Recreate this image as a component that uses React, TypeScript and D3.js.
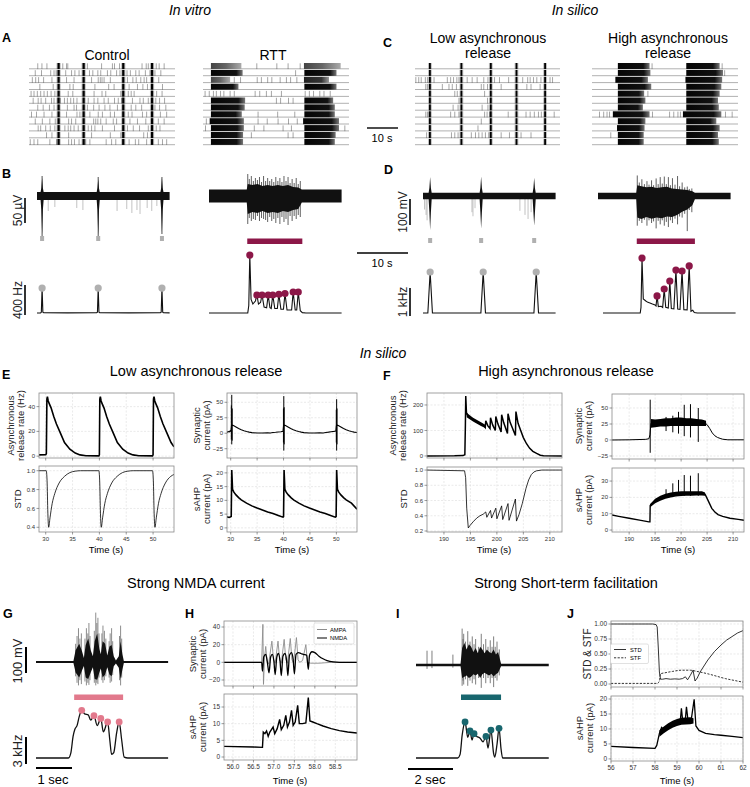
import React from 'react';
import * as d3 from 'd3';

type P2 = [number, number];
type P3 = [number, number, number];

const FONT = '"Liberation Sans", Arial, Helvetica, sans-serif';
const MAROON = '#8c1748';
const GRAYMK = '#b0b0b0';
const PINK = '#e2798c';
const TEAL = '#18666e';

// ---------------- Raster data (seconds within a 0–35 s window) ----------------
const rasterDomain: P2 = [0, 35];
const controlBurstTimes = [7.1, 13.1, 22.6, 29.5];
const controlSparse: number[][] = [
  [2.1, 3.1, 4.3, 8.1, 9.0, 9.3, 14.0, 17.4, 20.0, 20.5, 21.7, 27.1, 28.1, 28.6, 30.5, 31.2, 32.4],
  [1.5, 3.0, 5.2, 6.0, 6.5, 8.8, 10.2, 11.0, 12.0, 14.5, 15.3, 16.5, 17.2, 18.8, 19.6, 21.0, 21.8, 23.5, 24.3, 25.6, 26.4, 27.9, 29.0, 30.2, 31.6],
  [0.8, 1.6, 2.3, 3.5, 5.5, 9.0, 10.8, 15.0, 16.6, 17.1, 17.5, 18.0, 19.5, 23.6, 24.9, 25.7, 26.8, 27.6, 28.2, 31.1],
  [2.6, 5.8, 9.8, 10.6, 15.8, 19.1, 20.4, 24.0, 26.0, 27.3, 28.4, 32.0],
  [0.5, 1.2, 2.0, 2.8, 3.6, 4.4, 5.3, 6.2, 9.4, 10.5, 15.6, 17.5, 18.4, 22.0, 23.8, 24.5, 25.2, 30.6, 31.9],
  [1.0, 2.2, 2.9, 4.0, 5.4, 6.0, 6.8, 7.5, 8.5, 9.2, 10.0, 10.7, 11.5, 14.2, 15.6, 16.5, 18.0, 19.0, 20.5, 21.4, 22.2, 24.8, 26.6, 27.4, 28.6, 30.4, 31.3, 32.5],
  [2.1, 3.4, 4.9, 6.0, 9.2, 10.8, 11.4, 14.0, 15.5, 16.8, 18.2, 19.4, 21.2, 24.5, 25.6, 27.0, 30.2, 31.3, 32.8],
  [0.6, 1.8, 3.6, 5.5, 9.0, 11.5, 12.2, 14.6, 16.6, 17.6, 19.5, 20.5, 23.8, 24.7, 27.2, 28.2, 31.5, 33.0],
  [1.5, 3.2, 5.0, 6.3, 9.5, 10.2, 11.2, 15.5, 16.0, 16.5, 17.2, 18.5, 20.2, 21.0, 24.2, 26.0, 28.0, 31.0, 32.4],
  [2.2, 2.8, 4.0, 5.1, 6.2, 8.6, 9.4, 10.0, 10.8, 11.8, 14.2, 15.0, 15.8, 17.6, 20.5, 23.6, 25.0, 26.5, 28.6, 30.5, 31.4],
  [4.2, 5.5, 9.5, 15.0, 19.5, 22.0, 27.5, 28.4],
  [0.3, 1.2, 2.1, 5.0, 6.6, 9.5, 10.2, 10.9, 12.0, 13.6, 14.6, 18.5, 19.8, 20.8, 22.4, 24.0, 25.5, 26.3, 28.2, 31.0, 32.0, 33.0],
];
const rttBlocks: P3[][] = [
  [[1.9, 9.2, 0.5], [24.2, 33.0, 0.5]],
  [[1.9, 9.5, 1], [24.3, 32.0, 1]],
  [[1.9, 6.5, 0.5], [24.2, 30.2, 0.8]],
  [[1.9, 8.5, 1], [24.3, 32.0, 1]],
  [],
  [[1.9, 10.1, 1], [24.3, 31.2, 1]],
  [[1.9, 10.0, 1], [24.3, 31.6, 1]],
  [[1.9, 9.3, 1], [24.3, 31.6, 1]],
  [[1.6, 9.8, 1], [24.0, 32.6, 1]],
  [[1.9, 9.8, 1], [24.3, 32.6, 1]],
  [[1.9, 9.6, 1], [24.3, 31.8, 1]],
  [[1.9, 9.6, 1], [24.3, 31.6, 1]],
];
const rttSparse: number[][] = [
  [12.9, 17.7, 20.4, 23.3],
  [22.2],
  [7.5, 9.0, 13.0, 14.0, 15.5, 16.5, 18.5, 20.0, 21.0, 22.5],
  [],
  [0.5, 1.5, 2.5, 3.2, 4.2, 5.0, 6.5, 7.5, 12.5, 13.6, 15.2, 16.4, 18.8, 24.5, 25.5, 26.5, 28.0, 29.0, 30.5],
  [17.6, 18.6, 20.5, 21.6],
  [],
  [13.2, 17.9, 22.0],
  [0.8, 13.2, 15.4, 18.0, 20.5, 22.6],
  [0.6, 12.3, 14.6, 19.2, 21.2, 34.0],
  [11.6, 20.4, 21.6],
  [],
];
const lowColumnTimes = [3.6, 11.2, 18.3, 24.5, 31.4];
const lowSparse: number[][] = [
  [],
  [],
  [0.2, 0.9, 1.5, 2.5, 3.0, 4.6, 7.8, 8.6, 9.3, 10.1, 10.6, 12.6, 13.8, 15.0, 16.6, 17.6, 19.2, 20.4, 22.6, 26.0, 27.2, 27.8, 28.6, 29.4, 30.4, 32.6, 33.2],
  [2.6, 3.0, 6.6, 8.2, 9.0, 10.0, 16.0, 16.6, 17.5, 20.8, 27.0, 28.0, 30.2],
  [9.6, 10.2, 16.8],
  [10.6, 17.5],
  [9.2, 10.4, 16.2, 17.6],
  [2.6, 3.0, 3.4, 8.6, 9.6, 10.6, 16.8, 17.4, 18.0, 22.5, 26.8, 27.8, 28.8, 29.8, 30.5, 33.6],
  [16.0],
  [15.2],
  [2.8, 8.8, 9.6, 10.4, 13.6, 14.6, 15.4, 16.2, 17.0, 17.8, 20.8, 22.8, 25.6, 28.0],
  [],
];
const highBlocks: P3[][] = [
  [[6.2, 13.8, 1], [22.6, 30.6, 1]],
  [[6.2, 14.0, 1], [22.6, 31.4, 1]],
  [[5.6, 13.4, 1], [22.4, 31.2, 1]],
  [[6.2, 14.2, 1], [22.6, 31.0, 1]],
  [[6.2, 12.5, 1], [22.6, 30.6, 1]],
  [[6.2, 12.8, 1], [22.6, 30.2, 1]],
  [[6.2, 12.2, 1], [22.6, 30.4, 1]],
  [[5.0, 13.8, 1], [21.8, 31.0, 1]],
  [[6.2, 12.8, 1], [22.6, 29.8, 1]],
  [[6.0, 12.6, 1], [22.6, 30.6, 1]],
  [[6.2, 12.4, 1], [22.6, 30.2, 1]],
  [[6.2, 12.4, 1], [22.6, 30.4, 1]],
];
const highSparse: number[][] = [
  [14.4, 31.2], [31.8], [], [], [13.4], [], [],
  [1.8, 2.8, 3.6, 4.2, 14.5, 18.6, 19.6, 20.6, 21.2, 32.0, 33.6],
  [], [], [4.5], [],
];

// ---------------- B / D traces (t in s; [t, upper, lower]) ----------------
const bCtrlEnv: P3[] = [[0, 8, -8], [0.7, 8, -8], [0.85, 16, -28], [1.0, 36, -76], [1.15, 16, -28], [1.3, 8, -8], [11.7, 8, -8], [11.85, 16, -28], [12.0, 34, -78], [12.15, 16, -28], [12.3, 8, -8], [24.2, 8, -8], [24.35, 16, -28], [24.5, 36, -72], [24.65, 16, -28], [24.8, 8, -8], [26, 8, -8]];
const bCtrlSpikes: P3[] = [[1.0, 40, -80], [12.0, 38, -82], [24.5, 38, -76]];
const bCtrlMinor: P2[] = [[2.2, -30], [3.5, -22], [7.8, -24], [9.0, -28], [15.7, -30], [17.6, -26], [18.6, -34], [19.6, -28], [20.2, -36], [21.6, -24], [22.5, -30], [23.5, -20]];
const bRttEnv: P3[] = [[0, 13, -13], [7.4, 13, -13], [7.6, 24, -36], [8.5, 22, -32], [9.5, 24, -34], [10.5, 20, -30], [11.5, 22, -34], [12.5, 20, -32], [13.5, 22, -34], [14.5, 20, -30], [15.5, 22, -32], [16.5, 18, -28], [17.5, 17, -26], [18.2, 13, -13], [26, 13, -13]];
const bRttSpikes: P3[] = [[7.6, 44, -56], [7.9, 34, -44], [8.3, 40, -50], [8.7, 30, -46], [9.1, 36, -48], [9.5, 32, -40], [9.9, 38, -50], [10.3, 28, -44], [10.7, 40, -46], [11.1, 30, -48], [11.5, 36, -52], [11.9, 30, -42], [12.3, 34, -50], [12.7, 28, -46], [13.1, 38, -54], [13.5, 30, -44], [13.9, 36, -56], [14.3, 28, -42], [14.7, 40, -52], [15.1, 30, -46], [15.5, 38, -58], [15.9, 26, -40], [16.3, 34, -50], [16.7, 26, -40], [17.1, 36, -46], [17.5, 24, -38], [17.9, 30, -42]];
const dLowEnv: P3[] = [[0, 12, -12], [1.1, 12, -12], [1.25, 30, -60], [1.4, 70, -126], [1.55, 30, -60], [1.7, 12, -12], [11.1, 12, -12], [11.25, 30, -60], [11.4, 72, -120], [11.55, 30, -60], [11.7, 12, -12], [21.5, 12, -12], [21.65, 30, -60], [21.8, 68, -110], [21.95, 30, -60], [22.1, 12, -12], [26, 12, -12]];
const dLowMinor: P2[] = [[0.3, -50], [0.6, -70], [0.8, -90], [9.6, -60], [9.8, -75], [10.2, -45], [19.0, -55], [20.0, -70], [20.6, -85], [21.2, -60]];
const dHighEnv: P3[] = [[0, 12, -12], [7.5, 12, -12], [7.7, 40, -80], [8.5, 36, -85], [9.5, 32, -78], [10.5, 34, -84], [11.5, 30, -80], [12.5, 32, -82], [13.5, 34, -76], [14.5, 28, -78], [15.5, 26, -70], [16.5, 24, -58], [17.5, 22, -50], [18.5, 18, -34], [19.0, 12, -12], [26, 12, -12]];
const dHighSpikes: P3[] = [[7.7, 76, -110], [8.1, 50, -92], [8.6, 62, -100], [9.1, 44, -88], [9.6, 55, -110], [10.0, 42, -90], [10.5, 58, -100], [10.9, 40, -94], [11.4, 65, -120], [11.8, 44, -92], [12.2, 70, -105], [12.6, 46, -90], [13.0, 72, -110], [13.4, 44, -96], [13.8, 70, -115], [14.2, 40, -90], [14.6, 66, -100], [15.1, 42, -84], [15.6, 74, -105], [16.0, 36, -76], [16.5, 50, -80], [17.0, 32, -66], [17.5, 35, -130], [17.9, 26, -52], [18.4, 28, -60]];

const ctrlMarkTimes = [1.0, 12.0, 24.5];
const lowMarkTimes = [1.4, 11.4, 21.8];
const rttBar: P2 = [7.5, 18.3];
const highBar: P2 = [7.6, 19.0];

// rates (Hz)
const bCtrlRate: P2[] = [[0, 1], [0.7, 2], [0.85, 10], [1.0, 333], [1.15, 10], [1.3, 3], [6, 2], [11.7, 3], [11.85, 10], [12.0, 333], [12.15, 10], [12.3, 3], [18, 2], [24.2, 3], [24.35, 10], [24.5, 333], [24.65, 10], [24.8, 3], [26, 2]];
const bCtrlPeaks: P2[] = [[1.0, 333], [12.0, 333], [24.5, 333]];
const bRttRate: P2[] = [[0, 0], [7.6, 0], [7.8, 100], [8.0, 773], [8.25, 180], [8.6, 120], [9.1, 160], [9.4, 240], [9.7, 120], [10.1, 140], [10.4, 240], [10.8, 80], [11.3, 70], [11.6, 240], [11.95, 70], [12.2, 60], [12.5, 240], [12.9, 60], [13.4, 60], [13.7, 250], [14.1, 50], [14.6, 50], [14.9, 260], [15.3, 40], [16.2, 40], [16.5, 280], [16.9, 40], [17.2, 40], [17.5, 280], [17.9, 30], [18.3, 5], [19, 0], [26, 0]];
const bRttPeaks: P2[] = [[8.0, 773], [9.4, 240], [10.4, 240], [11.6, 240], [12.5, 240], [13.7, 250], [14.9, 260], [16.5, 280], [17.5, 280]];
const dLowRate: P2[] = [[0, 0], [0.95, 0], [1.4, 1464], [1.85, 0], [11.35, 0], [11.8, 1464], [12.25, 0], [21.75, 0], [22.2, 1464], [22.65, 0], [26, 0]];
const dLowPeaks: P2[] = [[1.4, 1464], [11.8, 1464], [22.2, 1464]];
const dHighRate: P2[] = [[0, 0], [7.3, 0], [7.45, 200], [7.65, 1960], [7.9, 500], [8.4, 430], [8.8, 380], [9.2, 360], [9.7, 320], [10.2, 290], [10.4, 250], [10.6, 610], [10.85, 230], [11.4, 240], [11.7, 200], [12.0, 857], [12.3, 200], [12.8, 180], [13.1, 1143], [13.4, 160], [13.9, 150], [14.3, 1536], [14.65, 140], [15.1, 130], [15.5, 1500], [15.85, 120], [16.5, 110], [16.9, 1680], [17.25, 60], [17.6, 100], [17.9, 20], [18.5, 0], [26, 0]];
const dHighPeaks: P2[] = [[7.65, 1960], [10.6, 610], [12.0, 857], [13.1, 1143], [14.3, 1536], [15.5, 1500], [16.9, 1680]];

// ---------------- E (low asynchronous release) ----------------
const eAsync: P2[] = [[28.75, 1], [30.0, 1.2], [30.12, 2], [30.22, 46], [30.32, 48], [30.45, 45], [30.6, 43], [31.0, 39], [31.5, 32], [32.0, 26], [32.7, 19], [33.5, 11], [34.5, 5.6], [35.5, 2.5], [36.4, 1], [37.5, 0.3], [39.9, 0.2],
  [40.0, 1], [40.08, 46], [40.18, 48], [40.3, 45], [40.45, 43], [40.85, 39], [41.35, 32], [41.85, 26], [42.55, 19], [43.35, 11], [44.35, 5.6], [45.35, 2.5], [46.25, 1], [47.35, 0.3], [49.9, 0.2],
  [50.0, 1], [50.08, 46], [50.18, 48], [50.3, 45], [50.45, 43], [50.85, 39], [51.35, 32], [51.85, 26], [52.55, 19], [53.35, 11], [53.9, 7.5]];
const eSTD: P2[] = [[28.75, 1.0], [30.1, 1.0], [30.25, 0.9], [30.4, 0.55], [30.55, 0.4], [30.8, 0.5], [31.2, 0.65], [31.7, 0.76], [32.5, 0.87], [33.5, 0.94], [34.5, 0.98], [35.5, 0.995], [36.5, 1.0],
  [39.9, 1.0], [40.05, 0.9], [40.2, 0.55], [40.35, 0.4], [40.6, 0.5], [41.0, 0.65], [41.5, 0.76], [42.3, 0.87], [43.3, 0.94], [44.3, 0.98], [45.3, 0.995], [46.3, 1.0],
  [49.9, 1.0], [50.05, 0.9], [50.2, 0.55], [50.35, 0.4], [50.6, 0.5], [51.0, 0.65], [51.5, 0.76], [52.3, 0.87], [53.3, 0.94], [53.9, 0.96]];
const eSyn: P2[] = [[29.3, 1], [29.5, 3], [29.7, 2], [29.9, 4], [30.05, 3], [30.15, 12], [30.35, 13], [30.6, 12], [31, 10], [31.5, 7.5], [32, 5.5], [32.5, 4], [33, 2.8], [33.5, 1.8], [34, 1], [35, 0.3], [36, 0.4], [37, 0.8], [37.5, 0.5], [38, 1.2], [38.5, 1.5], [39, 2], [39.5, 2.5], [39.9, 3],
  [40.0, 12], [40.2, 13], [40.45, 12], [40.85, 10], [41.35, 7.5], [41.85, 5.5], [42.35, 4], [42.85, 2.8], [43.35, 1.8], [43.85, 1], [44.85, 0.3], [45.85, 0.4], [46.85, 0.8], [47.5, 0.5], [48, 1.2], [48.5, 1.8], [49, 2.5], [49.5, 3], [49.9, 3.5],
  [50.0, 12], [50.2, 13], [50.45, 12], [50.85, 10], [51.35, 7.5], [51.85, 5.5], [52.35, 4], [52.85, 2.8], [53.35, 1.8], [53.9, 1.2]];
const eSynSpikes: P3[] = [[30.12, 45, -10], [30.2, 62, -18], [30.28, 40, -12], [39.98, 40, -15], [40.05, 60, -28], [40.12, 42, -18], [49.98, 38, -15], [50.05, 55, -28], [50.12, 40, -18]];
const eAHP: P2[] = [[29.3, 4], [29.7, 3.8], [30.0, 4], [30.1, 4.2], [30.2, 21], [30.35, 14], [30.6, 13], [31, 12], [31.5, 11], [32, 10.2], [33, 9], [34, 8], [35, 7.2], [36, 6.5], [37, 5.8], [38, 5.2], [39, 4.5], [39.9, 3.9],
  [40.0, 4.1], [40.1, 21], [40.25, 14], [40.5, 13], [40.9, 12], [41.4, 11], [41.9, 10.2], [42.9, 9], [43.9, 8], [44.9, 7.2], [45.9, 6.5], [46.9, 5.8], [47.9, 5.2], [48.9, 4.5], [49.8, 3.9],
  [49.95, 4.1], [50.05, 21], [50.2, 14], [50.45, 13], [50.85, 12], [51.35, 11], [51.85, 10.2], [52.85, 9], [53.9, 6.8]];

// ---------------- F (high asynchronous release) ----------------
const fAsync: P2[] = [[186.8, 0], [192, 0.5], [193.6, 1.5], [193.95, 5], [194.05, 120], [194.12, 235], [194.25, 170], [194.5, 158], [195, 150], [195.5, 143], [196, 136], [196.5, 130], [197, 125], [197.5, 120], [197.8, 112], [197.9, 138], [198.3, 118], [198.7, 108], [198.8, 150], [199.2, 122], [199.7, 100], [199.8, 155], [200.2, 125], [200.8, 94], [200.9, 162], [201.3, 130], [202.0, 88], [202.1, 166], [202.5, 132], [203.5, 80], [203.6, 174], [204.0, 128], [204.5, 100], [205.0, 72], [205.6, 48], [206.2, 30], [206.8, 18], [207.5, 10], [208.2, 3], [208.8, 0.5], [212.3, 0]];
const fAsyncBand: P3[] = [[194.3, 170, 152], [195, 158, 142], [196, 144, 129], [197, 132, 118], [197.8, 122, 110]];
const fSTD: P2[] = [[186.8, 1.0], [193.9, 0.99], [194.1, 0.9], [194.3, 0.5], [194.6, 0.24], [194.9, 0.27], [195.5, 0.32], [196.2, 0.37], [196.8, 0.4], [197.4, 0.42], [197.9, 0.45], [198.1, 0.38], [198.8, 0.47], [199.0, 0.37], [199.8, 0.5], [200.0, 0.36], [200.9, 0.53], [201.1, 0.35], [202.1, 0.56], [202.3, 0.34], [203.5, 0.62], [203.7, 0.33], [204.2, 0.42], [204.8, 0.56], [205.5, 0.76], [206, 0.87], [206.5, 0.94], [207, 0.975], [207.5, 0.99], [208.5, 1.0], [212.3, 1.0]];
const fSyn: P2[] = [[186.7, 0], [190, 0.3], [193.2, 1], [193.8, 2], [194.0, 8], [194.2, 26], [194.6, 27], [195.5, 27], [197, 28], [199, 28], [201, 28], [203, 28], [204.5, 27], [205.0, 24], [205.5, 18], [206.0, 11], [206.5, 6.5], [207, 4], [207.5, 2.5], [208, 1.2], [209, 0.3], [212.1, 0.3]];
const fSynBand: P3[] = [[194.2, 33, 19], [195, 32, 20], [196, 33, 21], [197, 34, 21], [198, 34, 22], [199, 35, 22], [200, 35, 22], [201, 34, 22], [202, 34, 22], [203, 33, 22], [204, 32, 22], [204.8, 30, 22]];
const fSynSpikes: P3[] = [[194.05, 63, -20], [197.1, 36, 14], [198.4, 38, 12], [199.5, 44, 10], [200.6, 55, 6], [201.8, 56, 4], [203.3, 50, -3]];
const fAHP: P2[] = [[186.7, 9.2], [188, 8.4], [190, 7.2], [192, 6.1], [193.8, 5.0], [194.0, 5.0], [194.05, 15], [194.3, 16], [195, 17.8], [196, 19.5], [197, 20.6], [198, 21.4], [199, 22], [200, 22.3], [201, 22.4], [202, 22.5], [203, 22.5], [204, 22.5], [204.6, 22], [205.2, 18], [205.9, 13.3], [206.5, 11], [207.1, 9.5], [208, 8.4], [209.4, 7.2], [211, 6.5], [212.1, 6]];
const fAHPBand: P3[] = [[194.05, 16, 14], [195, 19.2, 16.4], [196, 21, 18], [197, 22.2, 19.2], [198, 23, 20], [199, 23.5, 20.6], [200, 23.7, 20.8], [201, 23.8, 21], [202, 23.8, 21], [203, 23.8, 21.1], [204, 23.8, 21.1], [204.6, 23, 21]];
const fAHPSpikes: P2[] = [[197.1, 25], [198.4, 28.6], [199.5, 30.7], [200.6, 33.7], [201.8, 33.3], [203.3, 34.8]];

// ---------------- G / H (strong NMDA) ----------------
const gEnv: P3[] = [[0, 4, -4], [1.04, 4, -4], [1.1, 45, -40], [1.2, 70, -60], [1.28, 40, -32], [1.33, 15, -15], [1.38, 65, -60], [1.45, 90, -65], [1.52, 45, -40], [1.58, 22, -20], [1.63, 80, -65], [1.7, 110, -68], [1.76, 50, -40], [1.8, 30, -25], [1.85, 80, -60], [1.92, 70, -48], [1.98, 25, -20], [2.04, 60, -48], [2.1, 65, -55], [2.16, 22, -16], [2.22, 6, -6], [2.3, 22, -22], [2.35, 80, -65], [2.4, 30, -30], [2.44, 4, -4], [3.67, 4, -4]];
const gSpikes: P3[] = [[1.1, 70, -55], [1.14, 100, -80], [1.18, 130, -90], [1.22, 90, -70], [1.26, 110, -85], [1.36, 90, -75], [1.4, 130, -90], [1.44, 110, -80], [1.47, 150, -88], [1.5, 100, -70], [1.62, 120, -80], [1.66, 190, -90], [1.69, 150, -80], [1.72, 170, -85], [1.75, 110, -60], [1.83, 110, -70], [1.86, 140, -80], [1.9, 120, -70], [1.94, 90, -55], [2.03, 80, -60], [2.06, 110, -80], [2.1, 130, -75], [2.13, 80, -50], [2.32, 100, -70], [2.35, 140, -90], [2.38, 90, -60]];
const gBar: P2 = [1.06, 2.42];
const gRate: P2[] = [[0, 0], [0.9, 0], [0.97, 0.6], [1.03, 2.4], [1.08, 3.2], [1.14, 3.6], [1.2, 4.6], [1.27, 5.3], [1.35, 4.9], [1.45, 4.8], [1.52, 4.2], [1.61, 4.7], [1.7, 3.6], [1.8, 4.4], [1.87, 2.9], [1.99, 4.0], [2.05, 2.0], [2.1, 0.4], [2.16, 0.6], [2.24, 2.8], [2.31, 4.0], [2.38, 2.0], [2.45, 0.1], [2.55, 0], [3.67, 0]];
const gMarkers: P2[] = [[1.27, 5.3], [1.61, 4.7], [1.8, 4.4], [1.99, 4.0], [2.31, 4.0]];
const hAMPA: P2[] = [[55.78, 0], [56.7, 0], [56.73, 43], [56.745, -25], [56.77, 5], [56.8, 18], [56.83, 2], [56.87, -2], [56.95, 24], [56.99, 3], [57.03, -1], [57.1, 24], [57.14, 3], [57.18, -1], [57.25, 26], [57.29, 3], [57.33, -1], [57.4, 27], [57.44, 3], [57.48, -1], [57.55, 28], [57.59, 3], [57.63, 0], [57.7, 2], [57.78, 20], [57.82, 0], [57.9, -1], [58.1, -1], [58.4, 0], [59.03, 0]];
const hNMDA: P2[] = [[55.78, 0], [56.7, 0], [56.72, -10], [56.75, 6], [56.8, 9], [56.84, 0], [56.88, -12], [56.92, 6], [56.96, 9], [57.0, 1], [57.03, -14], [57.07, 6], [57.11, 10], [57.15, 1], [57.18, -15], [57.22, 7], [57.27, 10], [57.31, 2], [57.34, -15], [57.38, 8], [57.43, 11], [57.47, 3], [57.5, -13], [57.54, 9], [57.6, 11], [57.66, 10], [57.72, 9], [57.8, 8], [57.84, -8], [57.87, 8], [57.93, 12], [58.0, 11], [58.1, 7], [58.2, 4], [58.3, 2], [58.45, 0.5], [58.6, 0], [59.03, 0]];
const hAHP: P2[] = [[55.78, 3.2], [56.5, 3.0], [56.72, 2.9], [56.74, 7.5], [56.78, 7.0], [56.82, 7.8], [56.86, 6.2], [56.9, 7.5], [56.98, 9], [57.02, 7.0], [57.08, 8.5], [57.14, 11.3], [57.18, 8.2], [57.24, 9.5], [57.29, 12.5], [57.33, 9], [57.38, 10.5], [57.43, 14], [57.47, 9.5], [57.52, 10.5], [57.58, 15.5], [57.62, 10], [57.7, 10], [57.78, 10.2], [57.84, 17.8], [57.88, 10.8], [57.95, 10.5], [58.05, 10], [58.2, 9.3], [58.4, 8.5], [58.6, 7.9], [58.8, 7.5], [59.03, 7.2]];

// ---------------- I / J (strong STF) ----------------
const iEnv: P3[] = [[0, 5, -5], [1.98, 5, -5], [2.05, 65, -50], [2.15, 85, -45], [2.25, 60, -40], [2.35, 80, -50], [2.45, 70, -45], [2.55, 50, -36], [2.65, 65, -40], [2.75, 45, -34], [2.85, 70, -50], [2.95, 60, -36], [3.05, 45, -30], [3.15, 60, -36], [3.25, 50, -40], [3.35, 45, -34], [3.45, 60, -44], [3.55, 40, -36], [3.65, 50, -30], [3.78, 5, -5], [5.9, 5, -5]];
const iSpikes: P3[] = [[0.49, 55, -15], [0.71, 55, -12], [1.64, 40, -10], [2.05, 140, -80], [2.09, 100, -60], [2.12, 120, -75], [2.2, 90, -55], [2.3, 130, -80], [2.4, 90, -60], [2.5, 110, -70], [2.58, 80, -55], [2.65, 100, -75], [2.78, 70, -50], [2.9, 120, -88], [3.0, 80, -50], [3.1, 100, -70], [3.2, 70, -50], [3.3, 95, -70], [3.38, 70, -50], [3.45, 110, -85], [3.52, 70, -50], [3.6, 90, -60], [3.7, 60, -40]];
const iBar: P2 = [2.0, 3.78];
const iRate: P2[] = [[0, 0], [1.85, 0], [1.96, 0.4], [2.05, 2.5], [2.18, 4.0], [2.3, 2.3], [2.4, 3.0], [2.49, 2.0], [2.58, 2.7], [2.7, 2.4], [2.85, 2.2], [2.98, 1.8], [3.11, 2.4], [3.2, 1.1], [3.33, 3.1], [3.45, 0.5], [3.5, 0.1], [3.6, 1.5], [3.69, 3.3], [3.78, 1.0], [3.85, 0], [5.9, 0]];
const iMarkers: P2[] = [[2.18, 4.0], [2.4, 3.0], [2.58, 2.7], [3.11, 2.4], [3.33, 3.1], [3.69, 3.3]];
const jSTD: P2[] = [[56, 1.0], [57.9, 1.0], [58.05, 0.99], [58.1, 0.95], [58.15, 0.6], [58.2, 0.2], [58.25, 0.08], [58.35, 0.08], [58.5, 0.09], [58.7, 0.08], [58.9, 0.085], [59.1, 0.08], [59.25, 0.09], [59.38, 0.12], [59.48, 0.07], [59.6, 0.14], [59.73, 0.23], [59.82, 0.05], [59.92, 0.1], [60.05, 0.2], [60.4, 0.4], [60.7, 0.54], [61.0, 0.65], [61.25, 0.73], [61.5, 0.79], [61.75, 0.85], [62, 0.89]];
const jSTF: P2[] = [[56, 0.01], [58.1, 0.01], [58.2, 0.05], [58.25, 0.17], [58.5, 0.19], [58.8, 0.21], [59.2, 0.23], [59.6, 0.23], [59.9, 0.21], [60.4, 0.17], [60.8, 0.13], [61.2, 0.09], [61.6, 0.06], [62, 0.03]];
const jAHP: P2[] = [[56, 4.2], [57, 3.8], [58, 3.5], [58.08, 4.5], [58.2, 8.5], [58.3, 10.5], [58.4, 9.8], [58.6, 10.8], [58.8, 11.6], [59.0, 12.2], [59.15, 12.6], [59.2, 16.9], [59.26, 12.6], [59.38, 13.2], [59.43, 17.4], [59.5, 12.8], [59.65, 13.2], [59.78, 19.9], [59.86, 11], [60, 9.5], [60.3, 8.5], [60.7, 8.1], [61, 7.9], [61.5, 7.5], [62, 7.1]];
const jAHPBand: P3[] = [[58.2, 9.6, 7.4], [58.4, 10.8, 8.6], [58.6, 11.9, 9.6], [58.8, 12.7, 10.4], [59, 13.3, 11], [59.2, 13.7, 11.4], [59.6, 13.9, 11.6], [59.75, 13.6, 11.8]];

// ---------------- helpers ----------------
const lineP = (xs: any, ys: any, data: P2[], curve: any = d3.curveLinear) =>
  d3.line<P2>().x(d => xs(d[0])).y(d => ys(d[1])).curve(curve)(data) || '';
const areaP = (xs: any, ys: any, data: P3[], curve: any = d3.curveLinear) =>
  d3.area<P3>().x(d => xs(d[0])).y0(d => ys(d[2])).y1(d => ys(d[1])).curve(curve)(data) || '';
const fmtMinus = (v: number, digits = 0) => {
  const s = Math.abs(v).toFixed(digits);
  return v < 0 ? '\u2212' + s : s;
};

function Raster({ x0, x1, y0, gap, sparse, columns, blocks, colW }: any) {
  const xs = d3.scaleLinear().domain(rasterDomain).range([x0, x1]);
  const n = sparse.length;
  const rows = [];
  for (let i = 0; i < n; i++) {
    const y = y0 + i * gap;
    rows.push(
      <g key={i}>
        <line x1={x0} x2={x1} y1={y + 0.5} y2={y + 0.5} stroke="#8f8f8f" strokeWidth={0.7} />
        {sparse[i].map((t: number, j: number) => (
          <line key={j} x1={xs(t)} x2={xs(t)} y1={y - 5} y2={y + 0.8} stroke="#555" strokeOpacity={0.75} strokeWidth={0.7} />
        ))}
        {(columns || []).map((t: number, j: number) => (
          <g key={'c' + j}>
            <rect x={xs(t) - colW / 2 - 1} y={y - 5.3} width={colW + 2} height={6} fill="#000" opacity={0.25} />
            <rect x={xs(t) - colW / 2} y={y - 5.3} width={colW} height={6} fill="#000" />
          </g>
        ))}
        {(blocks ? blocks[i] : []).map((b: P3, j: number) => (
          <rect key={'b' + j} x={xs(b[0])} y={y - 5.3} width={xs(b[1]) - xs(b[0])} height={6}
            fill={b[2] < 0.7 ? 'url(#gradGray)' : b[2] < 1 ? 'url(#gradMid)' : 'url(#gradBlk)'} />
        ))}
      </g>
    );
  }
  return <g>{rows}</g>;
}

function Trace({ xs, ys, env, spikes, minor, spikeColor = '#222', bandColor = '#111' }: any) {
  return (
    <g>
      {(minor || []).map((m: P2, i: number) => (
        <line key={'m' + i} x1={xs(m[0])} x2={xs(m[0])} y1={ys(0)} y2={ys(m[1])} stroke="#999" strokeWidth={0.6} />
      ))}
      {(spikes || []).map((s: P3, i: number) => (
        <line key={'s' + i} x1={xs(s[0])} x2={xs(s[0])} y1={ys(s[1])} y2={ys(s[2])} stroke={spikeColor} strokeWidth={0.8} />
      ))}
      <path d={areaP(xs, ys, env)} fill={bandColor} />
    </g>
  );
}

function Plot({ id, x0, x1, y0, y1, xd, yd, xt, yt, xfmt, yfmt, showX, fs = 6, children }: any) {
  const xs = d3.scaleLinear().domain(xd).range([x0, x1]);
  const ys = d3.scaleLinear().domain(yd).range([y1, y0]);
  return (
    <g>
      <defs>
        <clipPath id={id}><rect x={x0} y={y0} width={x1 - x0} height={y1 - y0} /></clipPath>
      </defs>
      {xt.map((t: number) => (
        <line key={'gx' + t} x1={xs(t)} x2={xs(t)} y1={y0} y2={y1} stroke="#dcdcdc" strokeWidth={0.6} strokeDasharray="2,1.5" />
      ))}
      {yt.map((t: number) => (
        <line key={'gy' + t} x1={x0} x2={x1} y1={ys(t)} y2={ys(t)} stroke="#dcdcdc" strokeWidth={0.6} strokeDasharray="2,1.5" />
      ))}
      <g clipPath={`url(#${id})`}>{children(xs, ys)}</g>
      <rect x={x0} y={y0} width={x1 - x0} height={y1 - y0} fill="none" stroke="#8a8a8a" strokeWidth={0.8} />
      {xt.map((t: number) => (
        <line key={'tx' + t} x1={xs(t)} x2={xs(t)} y1={y1} y2={y1 + 2.5} stroke="#555" strokeWidth={0.6} />
      ))}
      {showX && xt.map((t: number) => (
        <text key={'lx' + t} x={xs(t)} y={y1 + 9} fontSize={fs} textAnchor="middle" fill="#333">{xfmt(t)}</text>
      ))}
      {yt.map((t: number) => (
        <g key={'ty' + t}>
          <line x1={x0 - 2.5} x2={x0} y1={ys(t)} y2={ys(t)} stroke="#555" strokeWidth={0.6} />
          <text x={x0 - 4} y={ys(t)} dy="0.35em" fontSize={fs} textAnchor="end" fill="#333">{yfmt(t)}</text>
        </g>
      ))}
    </g>
  );
}

function YLabel({ x, y, lines, fs = 9.5, gap = 10 }: any) {
  return (
    <g transform={`translate(${x},${y}) rotate(-90)`}>
      {lines.map((l: string, i: number) => (
        <text key={i} x={0} y={i * gap} textAnchor="middle" fontSize={fs} fill="#222">{l}</text>
      ))}
    </g>
  );
}

export default function App() {
  // B/D time scales (5.1 px per s)
  const tsc = (x0: number) => d3.scaleLinear().domain([0, 26]).range([x0, x0 + 26 * 5.1]);
  const bX = tsc(37), rX = tsc(209), dlX = tsc(423), dhX = tsc(598), dhRX = tsc(603);
  const bY = d3.scaleLinear().domain([0, 50]).range([196, 171]);
  const dY = d3.scaleLinear().domain([0, 100]).range([196, 169]);
  const bRY = d3.scaleLinear().domain([0, 400]).range([313, 283]);
  const dRY = d3.scaleLinear().domain([0, 1000]).range([313, 285]);
  const gX = d3.scaleLinear().domain([0, 1]).range([36, 72]);
  const gY = d3.scaleLinear().domain([0, 100]).range([662, 636]);
  const gRY = d3.scaleLinear().domain([0, 3]).range([758, 731]);
  const iX = d3.scaleLinear().domain([0, 2]).range([416, 461]);
  const iY = d3.scaleLinear().domain([0, 100]).range([665, 639]);
  const iRY = d3.scaleLinear().domain([0, 3]).range([758, 731]);

  const tf = (v: number) => String(v);

  return (
    <svg width={750} height={787} style={{ position: 'absolute', left: 0, top: 0, background: '#fff' }}
      fontFamily={FONT}>
      <defs>
        <linearGradient id="gradBlk" x1="0" x2="1" y1="0" y2="0">
          <stop offset="0" stopColor="#050505" />
          <stop offset="0.8" stopColor="#111" />
          <stop offset="1" stopColor="#777" />
        </linearGradient>
        <linearGradient id="gradMid" x1="0" x2="1" y1="0" y2="0">
          <stop offset="0" stopColor="#222" />
          <stop offset="0.7" stopColor="#333" />
          <stop offset="1" stopColor="#999" />
        </linearGradient>
        <linearGradient id="gradGray" x1="0" x2="1" y1="0" y2="0">
          <stop offset="0" stopColor="#444" />
          <stop offset="0.5" stopColor="#666" />
          <stop offset="1" stopColor="#aaa" />
        </linearGradient>
      </defs>
      <rect x={0} y={0} width={750} height={787} fill="#fff" />

      {/* Headings */}
      <text x={190} y={15} fontSize={14} fontStyle="italic" textAnchor="middle">In vitro</text>
      <text x={575} y={15} fontSize={14} fontStyle="italic" textAnchor="middle">In silico</text>
      <text x={383} y={358} fontSize={14} fontStyle="italic" textAnchor="middle">In silico</text>

      {/* Panel letters */}
      {[['A', 2, 42], ['B', 2, 178], ['C', 383, 47], ['D', 384, 174], ['E', 2, 379], ['F', 383, 380], ['G', 3, 618], ['H', 185, 618], ['I', 396, 618], ['J', 567, 618]].map(([l, x, y]: any) => (
        <text key={l} x={x} y={y} fontSize={12.5} fontWeight="bold">{l}</text>
      ))}

      {/* A titles */}
      <text x={107} y={60} fontSize={14} textAnchor="middle">Control</text>
      <text x={273} y={60} fontSize={14} textAnchor="middle">RTT</text>
      <text x={488} y={43} fontSize={14} textAnchor="middle">Low asynchronous</text>
      <text x={488} y={58} fontSize={14} textAnchor="middle">release</text>
      <text x={668} y={43} fontSize={14} textAnchor="middle">High asynchronous</text>
      <text x={668} y={58} fontSize={14} textAnchor="middle">release</text>

      {/* Rasters */}
      <Raster x0={29} x1={175} y0={68.3} gap={6.9} sparse={controlSparse} columns={controlBurstTimes} colW={2.2} />
      <Raster x0={203} x1={349} y0={68.3} gap={6.9} sparse={rttSparse} blocks={rttBlocks} />
      <Raster x0={415} x1={560} y0={68.3} gap={6.9} sparse={lowSparse} columns={lowColumnTimes} colW={1.8} />
      <Raster x0={592} x1={738} y0={68.3} gap={6.9} sparse={highSparse} blocks={highBlocks} />
      <line x1={367} x2={398} y1={128} y2={128} stroke="#000" strokeWidth={1.4} />
      <text x={382} y={142} fontSize={11} textAnchor="middle">10 s</text>

      {/* B traces */}
      <Trace xs={bX} ys={bY} env={bCtrlEnv} spikes={bCtrlSpikes} minor={bCtrlMinor} />
      <Trace xs={rX} ys={bY} env={bRttEnv} spikes={bRttSpikes} spikeColor="#3a3a3a" />
      {ctrlMarkTimes.map((t, i) => <rect key={i} x={bX(t) - 2} y={236} width={4} height={5} fill={GRAYMK} />)}
      <rect x={rX(rttBar[0])} y={238.5} width={rX(rttBar[1]) - rX(rttBar[0])} height={5.5} fill={MAROON} />
      <path d={lineP(bX, bRY, bCtrlRate)} fill="none" stroke="#111" strokeWidth={1.1} />
      <path d={lineP(rX, bRY, bRttRate)} fill="none" stroke="#111" strokeWidth={1.1} />
      {bCtrlPeaks.map((p, i) => <circle key={i} cx={bX(p[0])} cy={bRY(p[1])} r={3.6} fill={GRAYMK} />)}
      {bRttPeaks.map((p, i) => <circle key={i} cx={rX(p[0])} cy={bRY(p[1])} r={3.6} fill={MAROON} />)}
      <line x1={25} x2={25} y1={198} y2={223} stroke="#000" strokeWidth={1.6} />
      <YLabel x={22} y={210.5} lines={['50 \u00b5V']} fs={12} />
      <line x1={25} x2={25} y1={285} y2={315} stroke="#000" strokeWidth={1.6} />
      <YLabel x={22} y={300} lines={['400 Hz']} fs={12} />

      {/* middle time bar */}
      <line x1={357} x2={408} y1={253} y2={253} stroke="#000" strokeWidth={1.4} />
      <text x={382} y={267} fontSize={11} textAnchor="middle">10 s</text>

      {/* D traces */}
      <Trace xs={dlX} ys={dY} env={dLowEnv} minor={dLowMinor} />
      <Trace xs={dhX} ys={dY} env={dHighEnv} spikes={dHighSpikes} spikeColor="#3a3a3a" />
      {lowMarkTimes.map((t, i) => <rect key={i} x={dlX(t) - 2} y={238} width={4} height={5} fill={GRAYMK} />)}
      <rect x={dhX(highBar[0])} y={238.5} width={dhX(highBar[1]) - dhX(highBar[0])} height={5.5} fill={MAROON} />
      <path d={lineP(dlX, dRY, dLowRate)} fill="none" stroke="#111" strokeWidth={1.1} />
      <path d={lineP(dhRX, dRY, dHighRate)} fill="none" stroke="#111" strokeWidth={1.1} />
      {dLowPeaks.map((p, i) => <circle key={i} cx={dlX(p[0])} cy={dRY(p[1])} r={3.6} fill={GRAYMK} />)}
      {dHighPeaks.map((p, i) => <circle key={i} cx={dhRX(p[0])} cy={dRY(p[1])} r={3.6} fill={MAROON} />)}
      <line x1={410} x2={410} y1={199} y2={225} stroke="#000" strokeWidth={1.6} />
      <YLabel x={406.5} y={212} lines={['100 mV']} fs={12} />
      <line x1={410} x2={410} y1={288} y2={316} stroke="#000" strokeWidth={1.6} />
      <YLabel x={406.5} y={302} lines={['1 kHz']} fs={12} />

      {/* E */}
      <text x={196} y={376} fontSize={14.5} textAnchor="middle">Low asynchronous release</text>
      <Plot id="eTL" x0={39} x1={174} y0={393} y1={458} xd={[28.75, 53.9]} yd={[-1.5, 51]} xt={[30, 35, 40, 45, 50]} yt={[0, 20, 40]} yfmt={tf} showX={false}>
        {(xs: any, ys: any) => <path d={lineP(xs, ys, eAsync)} fill="none" stroke="#000" strokeWidth={1.6} />}
      </Plot>
      <Plot id="eBL" x0={39} x1={174} y0={466} y1={532} xd={[28.75, 53.9]} yd={[0.35, 1.05]} xt={[30, 35, 40, 45, 50]} yt={[0.4, 0.6, 0.8, 1.0]} yfmt={(v: number) => v.toFixed(1)} xfmt={tf} showX>
        {(xs: any, ys: any) => <path d={lineP(xs, ys, eSTD, d3.curveMonotoneX)} fill="none" stroke="#000" strokeWidth={0.8} />}
      </Plot>
      <Plot id="eTR" x0={227} x1={357} y0={393} y1={458} xd={[29.3, 53.9]} yd={[-40, 65]} xt={[30, 35, 40, 45, 50]} yt={[-25, 0, 25, 50]} yfmt={(v: number) => fmtMinus(v)} showX={false}>
        {(xs: any, ys: any) => (
          <g>
            <path d={lineP(xs, ys, eSyn)} fill="none" stroke="#000" strokeWidth={1.1} />
            {eSynSpikes.map((s, i) => <line key={i} x1={xs(s[0])} x2={xs(s[0])} y1={ys(s[1])} y2={ys(s[2])} stroke="#000" strokeWidth={1} />)}
          </g>
        )}
      </Plot>
      <Plot id="eBR" x0={227} x1={357} y0={466} y1={532} xd={[29.3, 53.9]} yd={[-1.5, 22.5]} xt={[30, 35, 40, 45, 50]} yt={[0, 5, 10, 15, 20]} yfmt={tf} xfmt={tf} showX>
        {(xs: any, ys: any) => <path d={lineP(xs, ys, eAHP)} fill="none" stroke="#000" strokeWidth={1.6} />}
      </Plot>
      <YLabel x={14} y={425.5} lines={['Asynchronous', 'release rate (Hz)']} />
      <YLabel x={21} y={499} lines={['STD']} />
      <YLabel x={200} y={425.5} lines={['Synaptic', 'current (pA)']} />
      <YLabel x={200} y={499} lines={['sAHP', 'current (pA)']} />
      <text x={106} y={553} fontSize={9.5} textAnchor="middle">Time (s)</text>
      <text x={292} y={553} fontSize={9.5} textAnchor="middle">Time (s)</text>

      {/* F */}
      <text x={566} y={376} fontSize={14.5} textAnchor="middle">High asynchronous release</text>
      <Plot id="fTL" x0={427} x1={562} y0={393} y1={458} xd={[186.8, 212.3]} yd={[-8, 247]} xt={[190, 195, 200, 205, 210]} yt={[0, 100, 200]} yfmt={tf} showX={false}>
        {(xs: any, ys: any) => (
          <g>
            <path d={areaP(xs, ys, fAsyncBand, d3.curveMonotoneX)} fill="#000" />
            <path d={lineP(xs, ys, fAsync)} fill="none" stroke="#000" strokeWidth={1.5} />
          </g>
        )}
      </Plot>
      <Plot id="fBL" x0={427} x1={562} y0={467} y1={532} xd={[186.8, 212.3]} yd={[0.187, 1.04]} xt={[190, 195, 200, 205, 210]} yt={[0.2, 0.4, 0.6, 0.8, 1.0]} yfmt={(v: number) => v.toFixed(1)} xfmt={tf} showX>
        {(xs: any, ys: any) => <path d={lineP(xs, ys, fSTD)} fill="none" stroke="#000" strokeWidth={0.8} />}
      </Plot>
      <Plot id="fTR" x0={612} x1={744} y0={394} y1={459} xd={[186.7, 212.1]} yd={[-29.7, 71.9]} xt={[190, 195, 200, 205, 210]} yt={[-25, 0, 25, 50]} yfmt={(v: number) => fmtMinus(v)} showX={false}>
        {(xs: any, ys: any) => (
          <g>
            <path d={areaP(xs, ys, fSynBand)} fill="#000" />
            <path d={lineP(xs, ys, fSyn)} fill="none" stroke="#000" strokeWidth={1} />
            {fSynSpikes.map((s, i) => <line key={i} x1={xs(s[0])} x2={xs(s[0])} y1={ys(s[1])} y2={ys(s[2])} stroke="#000" strokeWidth={1} />)}
          </g>
        )}
      </Plot>
      <Plot id="fBR" x0={612} x1={744} y0={468} y1={532} xd={[186.7, 212.1]} yd={[-1.2, 38]} xt={[190, 195, 200, 205, 210]} yt={[0, 10, 20, 30]} yfmt={tf} xfmt={tf} showX>
        {(xs: any, ys: any) => (
          <g>
            <path d={areaP(xs, ys, fAHPBand)} fill="#000" />
            <path d={lineP(xs, ys, fAHP)} fill="none" stroke="#000" strokeWidth={1.4} />
            {fAHPSpikes.map((s, i) => <line key={i} x1={xs(s[0])} x2={xs(s[0])} y1={ys(s[1])} y2={ys(21)} stroke="#000" strokeWidth={1} />)}
          </g>
        )}
      </Plot>
      <YLabel x={396} y={425.5} lines={['Asynchronous', 'release rate (Hz)']} />
      <YLabel x={407} y={499} lines={['STD']} />
      <YLabel x={582} y={426} lines={['Synaptic', 'current (pA)']} />
      <YLabel x={582} y={500} lines={['sAHP', 'current (pA)']} />
      <text x={494} y={553} fontSize={9.5} textAnchor="middle">Time (s)</text>
      <text x={678} y={553} fontSize={9.5} textAnchor="middle">Time (s)</text>

      {/* G */}
      <text x={196} y={588} fontSize={14.5} textAnchor="middle">Strong NMDA current</text>
      <Trace xs={gX} ys={gY} env={gEnv} spikes={gSpikes} spikeColor="#6e6e6e" />
      <rect x={gX(gBar[0])} y={694.5} width={gX(gBar[1]) - gX(gBar[0])} height={5.5} fill={PINK} />
      <path d={lineP(gX, gRY, gRate, d3.curveMonotoneX)} fill="none" stroke="#111" strokeWidth={1.3} />
      {gMarkers.map((p, i) => <circle key={i} cx={gX(p[0])} cy={gRY(p[1])} r={3.4} fill={PINK} />)}
      <line x1={26} x2={26} y1={647} y2={673} stroke="#000" strokeWidth={2} />
      <YLabel x={22} y={661} lines={['100 mV']} fs={13} />
      <line x1={26} x2={26} y1={737} y2={764} stroke="#000" strokeWidth={2} />
      <YLabel x={22} y={751} lines={['3 kHz']} fs={13} />
      <line x1={36} x2={72} y1={768} y2={768} stroke="#000" strokeWidth={2} />
      <text x={53} y={784} fontSize={13} textAnchor="middle">1 sec</text>

      {/* H */}
      <Plot id="hT" x0={224} x1={357} y0={621} y1={686} xd={[55.78, 59.03]} yd={[-26.8, 46.8]} xt={[56, 56.5, 57, 57.5, 58, 58.5]} yt={[-20, 0, 20, 40]} yfmt={(v: number) => fmtMinus(v)} showX={false} fs={6.5}>
        {(xs: any, ys: any) => (
          <g>
            <path d={lineP(xs, ys, hAMPA)} fill="none" stroke="#8c8c8c" strokeWidth={0.9} />
            <path d={lineP(xs, ys, hNMDA, d3.curveMonotoneX)} fill="none" stroke="#000" strokeWidth={1.3} />
          </g>
        )}
      </Plot>
      <g>
        <rect x={314} y={623} width={40} height={21} fill="#fff" stroke="#ccc" strokeWidth={0.6} rx={1.5} />
        <line x1={317} x2={327} y1={629.5} y2={629.5} stroke="#8c8c8c" strokeWidth={1} />
        <text x={330} y={631.7} fontSize={5.8}>AMPA</text>
        <line x1={317} x2={327} y1={638} y2={638} stroke="#000" strokeWidth={1} />
        <text x={330} y={640.2} fontSize={5.8}>NMDA</text>
      </g>
      <Plot id="hB" x0={224} x1={357} y0={694} y1={760} xd={[55.78, 59.03]} yd={[-0.9, 18.9]} xt={[56, 56.5, 57, 57.5, 58, 58.5]} yt={[0, 5, 10, 15]} yfmt={tf} xfmt={(v: number) => v.toFixed(1)} showX fs={6.5}>
        {(xs: any, ys: any) => <path d={lineP(xs, ys, hAHP)} fill="none" stroke="#000" strokeWidth={1.4} />}
      </Plot>
      <YLabel x={196} y={654} lines={['Synaptic', 'current (pA)']} fs={9.5} />
      <YLabel x={196} y={727} lines={['sAHP', 'current (pA)']} fs={9.5} />
      <text x={290} y={784} fontSize={9.5} textAnchor="middle">Time (s)</text>

      {/* I */}
      <text x={566} y={588} fontSize={14.5} textAnchor="middle">Strong Short-term facilitation</text>
      <Trace xs={iX} ys={iY} env={iEnv} spikes={iSpikes} spikeColor="#5e5e5e" />
      <rect x={iX(iBar[0])} y={694.5} width={iX(iBar[1]) - iX(iBar[0])} height={5.5} fill={TEAL} />
      <path d={lineP(iX, iRY, iRate, d3.curveMonotoneX)} fill="none" stroke="#111" strokeWidth={1.3} />
      {iMarkers.map((p, i) => <circle key={i} cx={iX(p[0])} cy={iRY(p[1])} r={3.4} fill={TEAL} />)}
      <line x1={408} x2={453} y1={769} y2={769} stroke="#000" strokeWidth={2} />
      <text x={430} y={784} fontSize={13} textAnchor="middle">2 sec</text>

      {/* J */}
      <Plot id="jT" x0={611} x1={743} y0={621} y1={687} xd={[56, 62]} yd={[-0.05, 1.05]} xt={[56, 57, 58, 59, 60, 61, 62]} yt={[0, 0.25, 0.5, 0.75, 1.0]} yfmt={(v: number) => v.toFixed(2)} showX={false} fs={6.5}>
        {(xs: any, ys: any) => (
          <g>
            <path d={lineP(xs, ys, jSTD)} fill="none" stroke="#000" strokeWidth={0.8} />
            <path d={lineP(xs, ys, jSTF, d3.curveMonotoneX)} fill="none" stroke="#000" strokeWidth={0.8} strokeDasharray="2.2,1.4" />
          </g>
        )}
      </Plot>
      <g>
        <rect x={610.5} y={644} width={38} height={19.5} fill="#fff" stroke="#ccc" strokeWidth={0.6} rx={1.5} />
        <line x1={614} x2={626} y1={649.5} y2={649.5} stroke="#000" strokeWidth={0.8} />
        <text x={630} y={651.7} fontSize={5.8}>STD</text>
        <line x1={614} x2={626} y1={657.8} y2={657.8} stroke="#000" strokeWidth={0.8} strokeDasharray="2.2,1.4" />
        <text x={630} y={660} fontSize={5.8}>STF</text>
      </g>
      <Plot id="jB" x0={611} x1={743} y0={696} y1={761} xd={[56, 62]} yd={[-0.7, 21]} xt={[56, 57, 58, 59, 60, 61, 62]} yt={[0, 5, 10, 15, 20]} yfmt={tf} xfmt={tf} showX fs={6.5}>
        {(xs: any, ys: any) => (
          <g>
            <path d={areaP(xs, ys, jAHPBand)} fill="#000" />
            <path d={lineP(xs, ys, jAHP)} fill="none" stroke="#000" strokeWidth={1.3} />
          </g>
        )}
      </Plot>
      <YLabel x={591} y={654} lines={['STD & STF']} fs={10} />
      <YLabel x={583} y={728} lines={['sAHP', 'current (pA)']} fs={9.5} />
      <text x={677} y={784} fontSize={9.5} textAnchor="middle">Time (s)</text>
    </svg>
  );
}
